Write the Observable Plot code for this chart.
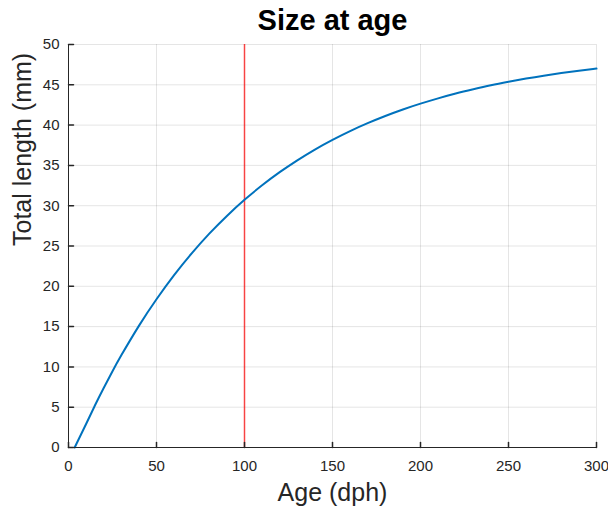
<!DOCTYPE html>
<html>
<head>
<meta charset="utf-8">
<script src="https://cdn.jsdelivr.net/npm/d3@7"></script>
<script src="https://cdn.jsdelivr.net/npm/@observablehq/plot@0.6"></script>
<style>
  html, body { margin: 0; padding: 0; background: #fff; }
  #chart svg { display: block; }
</style>
</head>
<body>
<div id="chart"></div>
<script>
const titleText = "Size at age";
const xLabel = "Age (dph)";
const yLabel = "Total length (mm)";
const xTicks = [0, 50, 100, 150, 200, 250, 300];
const yTicks = [0, 5, 10, 15, 20, 25, 30, 35, 40, 45, 50];
const markerAge = [100];
const ages    = [3.5, 10, 15, 20, 25, 30, 40, 50, 60, 70, 80, 90, 100, 110, 120, 130, 140, 150, 160, 170, 180, 190, 200, 210, 220, 230, 240, 250, 260, 270, 280, 290, 300];
const lengths = [0, 2.91, 5.21, 7.39, 9.46, 11.43, 15.09, 18.39, 21.38, 24.08, 26.53, 28.73, 30.73, 32.53, 34.16, 35.63, 36.97, 38.17, 39.26, 40.24, 41.13, 41.94, 42.66, 43.32, 43.92, 44.45, 44.94, 45.37, 45.77, 46.13, 46.45, 46.74, 47.01];

const data = ages.map((a, i) => ({age: a, len: lengths[i]}));
const ink = "#262626";
const tickShape = {draw(context, l) { context.moveTo(0, 0); context.lineTo(0, -l); }};

const chart = Plot.plot({
  width: 608,
  height: 510,
  marginLeft: 68,
  marginRight: 12,
  marginTop: 44,
  marginBottom: 63,
  style: {fontFamily: "'Liberation Sans', Arial, Helvetica, sans-serif", color: ink, background: "#fff"},
  x: {domain: [0, 300]},
  y: {domain: [0, 50]},
  marks: [
    Plot.gridX(xTicks, {stroke: ink, strokeOpacity: 0.12}),
    Plot.gridY(yTicks, {stroke: ink, strokeOpacity: 0.12}),
    Plot.ruleX(markerAge, {stroke: "#ff0000", strokeOpacity: 0.7, strokeWidth: 1.5}),
    Plot.line(data, {x: "age", y: "len", stroke: "#0072BD", strokeWidth: 2, curve: "natural"}),
    Plot.ruleX([0], {stroke: ink, strokeWidth: 1}),
    Plot.ruleY([0], {stroke: ink, strokeWidth: 1}),
    Plot.vector(xTicks, {x: d => d, y: 0, length: 5, rotate: 0, anchor: "start", shape: tickShape, stroke: ink}),
    Plot.vector(yTicks, {x: 0, y: d => d, length: 5, rotate: 90, anchor: "start", shape: tickShape, stroke: ink}),
    Plot.axisX({ticks: xTicks, tickSize: 0, tickPadding: 13, fontSize: 15, label: null}),
    Plot.axisY({ticks: yTicks, tickSize: 0, tickPadding: 9, fontSize: 15, label: null}),
    Plot.text([titleText], {frameAnchor: "top", lineAnchor: "middle", dy: -23.5, fontSize: 29, fontWeight: "bold", fill: "#000"}),
    Plot.text([xLabel], {frameAnchor: "bottom", lineAnchor: "middle", dy: 45, fontSize: 25, fill: ink}),
    Plot.text([yLabel], {frameAnchor: "left", lineAnchor: "middle", rotate: -90, dx: -46, fontSize: 25, fill: ink})
  ]
});
document.getElementById("chart").appendChild(chart);
</script>
</body>
</html>
